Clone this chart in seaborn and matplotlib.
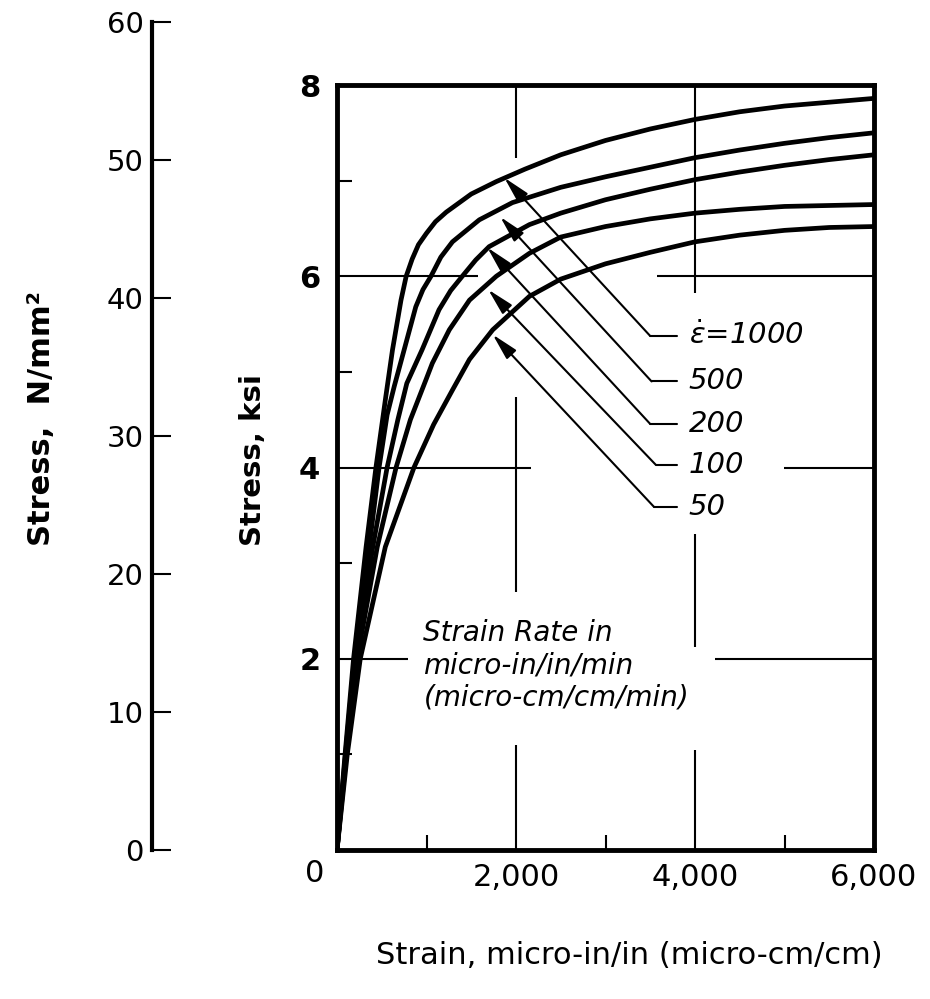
import numpy as np
import pandas as pd
import seaborn as sns
import matplotlib.pyplot as plt

sns.set_theme(style='white')
plt.rcParams['font.family'] = ['DejaVu Sans']
plt.rcParams['mathtext.fontset'] = 'dejavusans'
plt.rcParams['text.color'] = 'black'
plt.rcParams['axes.labelcolor'] = 'black'
plt.rcParams['xtick.color'] = 'black'
plt.rcParams['ytick.color'] = 'black'

# strain (micro-in/in) / stress (ksi)
rates = ['1000', '500', '200', '100', '50']
strain_1000 = [0, 90, 185, 325, 435, 545, 620, 715, 773, 840, 910, 1000, 1100, 1220, 1500, 1780, 2100, 2500, 3000, 3500, 4000, 4500, 5000, 5500, 6000]
stress_1000 = [0, 1.0, 2.0, 3.17, 4.0, 4.74, 5.23, 5.75, 6.0, 6.18, 6.33, 6.45, 6.57, 6.67, 6.86, 6.99, 7.12, 7.27, 7.42, 7.54, 7.64, 7.72, 7.78, 7.82, 7.86]
strain_500 = [0, 95, 195, 360, 470, 560, 640, 750, 880, 960, 1050, 1160, 1290, 1590, 1960, 2500, 3000, 3500, 4000, 4500, 5000, 5500, 6000]
stress_500 = [0, 1.0, 2.0, 3.17, 4.0, 4.55, 4.85, 5.23, 5.68, 5.86, 6.0, 6.2, 6.36, 6.59, 6.77, 6.93, 7.04, 7.14, 7.24, 7.32, 7.39, 7.45, 7.50]
strain_200 = [0, 100, 210, 400, 560, 680, 780, 950, 1140, 1270, 1400, 1550, 1700, 2150, 2500, 3000, 3500, 4000, 4500, 5000, 5500, 6000]
stress_200 = [0, 1.0, 2.0, 3.17, 4.0, 4.5, 4.88, 5.23, 5.65, 5.85, 6.0, 6.17, 6.31, 6.54, 6.66, 6.80, 6.91, 7.01, 7.09, 7.16, 7.22, 7.27]
strain_100 = [0, 105, 225, 450, 660, 820, 995, 1065, 1255, 1480, 1780, 2150, 2500, 3000, 3500, 4000, 4500, 5000, 5500, 6000]
stress_100 = [0, 1.0, 2.0, 3.17, 4.0, 4.5, 4.92, 5.09, 5.44, 5.75, 6.0, 6.24, 6.41, 6.52, 6.60, 6.66, 6.70, 6.73, 6.74, 6.75]
strain_50 = [0, 115, 260, 540, 860, 1080, 1290, 1480, 1740, 2150, 2500, 3000, 3500, 4000, 4500, 5000, 5500, 6000]
stress_50 = [0, 1.0, 2.0, 3.17, 4.0, 4.45, 4.81, 5.13, 5.44, 5.79, 5.97, 6.13, 6.25, 6.36, 6.43, 6.48, 6.51, 6.52]

# leader lines: arrow tip on curve, elbow, label
tip_x = [1870, 1825, 1680, 1690, 1740]
tip_y = [7.03, 6.62, 6.30, 5.86, 5.39]
elbow_x = [3495, 3515, 3495, 3560, 3540]
label_y = [5.38, 4.90, 4.46, 4.03, 3.59]
label_txt = [r'$\dot{\epsilon}$=1000', '500', '200', '100', '50']

x_ticks = [2000, 4000, 6000]
x_ticklabels = ['2,000', '4,000', '6,000']
y_ticks = [2, 4, 6, 8]
si_ticks = [0, 10, 20, 30, 40, 50, 60]

# broken grid lines (the drawing leaves gaps round text and curves)
vgrid_x = [2000, 2000, 2000, 4000, 4000, 4000]
vgrid_lo = [7.24, 2.70, 0, 5.82, 2.12, 0]
vgrid_hi = [8, 4.74, 1.10, 8, 3.30, 1.05]
hgrid_y = [6, 6, 4, 4, 2, 2]
hgrid_lo = [0, 3580, 0, 4990, 0, 4220]
hgrid_hi = [1570, 6000, 2170, 6000, 795, 6000]

df = pd.concat([
    pd.DataFrame({'strain': sx, 'stress': sy, 'rate': r})
    for r, sx, sy in zip(rates,
                         [strain_1000, strain_500, strain_200, strain_100, strain_50],
                         [stress_1000, stress_500, stress_200, stress_100, stress_50])
])

W, H = 930, 999
fig = plt.figure(figsize=(W / 100, H / 100), dpi=100)
ax = fig.add_axes([337 / W, 149 / H, 537 / W, 765 / H])
axL = fig.add_axes([152 / W, 149 / H, 0.001, 828 / H])

ax.vlines(vgrid_x, vgrid_lo, vgrid_hi, color='black', lw=1.5)
ax.hlines(hgrid_y, hgrid_lo, hgrid_hi, color='black', lw=1.5)

sns.lineplot(data=df, x='strain', y='stress', hue='rate', palette=['black'] * 5,
             sort=False, estimator=None, legend=False, linewidth=3.4, ax=ax)

for tx, ty, ex, ly, txt in zip(tip_x, tip_y, elbow_x, label_y, label_txt):
    ax.annotate('', xy=(tx, ty), xytext=(ex, ly),
                arrowprops=dict(arrowstyle='-|>,head_length=0.9,head_width=0.22',
                                color='black', lw=1.5, shrinkA=0, shrinkB=0,
                                mutation_scale=18))
    ax.plot([ex, 3800], [ly, ly], color='black', lw=1.5)
    ax.text(3930, ly, txt, fontsize=21, style='italic', va='center', ha='left')

ax.text(965, 1.93, 'Strain Rate in\nmicro-in/in/min\n(micro-cm/cm/min)',
        fontsize=20, style='italic', va='center', ha='left', linespacing=1.2)

ax.set_xlim(0, 6000)
ax.set_ylim(0, 8)
ax.set_xticks(x_ticks)
ax.set_xticklabels(x_ticklabels)
ax.set_yticks(y_ticks)
ax.set_yticklabels([str(v) for v in y_ticks], fontweight='bold')
ax.set_xticks([1000, 3000, 5000], minor=True)
ax.set_yticks([1, 3, 5, 7], minor=True)
ax.tick_params(which='major', length=0, labelsize=22)
ax.tick_params(axis='x', which='major', pad=9)
ax.tick_params(axis='y', which='major', pad=12)
ax.tick_params(which='minor', direction='in', length=11, width=1.5,
               bottom=True, left=True, top=False, right=False)
ax.annotate('0', xy=(0, 0), xytext=(-16, -17), textcoords='offset points',
            ha='center', va='center', fontsize=22)
ax.set_xlabel('')
ax.set_ylabel('')
for s in ax.spines.values():
    s.set_linewidth(3.5)
    s.set_color('black')

axL.set_ylim(0, 60)
axL.set_yticks(si_ticks)
axL.set_xticks([])
for name in ['top', 'right', 'bottom']:
    axL.spines[name].set_visible(False)
axL.spines['left'].set_linewidth(3)
axL.spines['left'].set_color('black')
axL.tick_params(axis='y', direction='in', length=14, width=1.5, left=True,
                labelsize=21, pad=6)
axL.patch.set_alpha(0)

fig.text(629 / W, 1 - 955 / H, 'Strain, micro-in/in (micro-cm/cm)', fontsize=22,
         ha='center', va='center')
fig.text(253 / W, 1 - 460 / H, 'Stress, ksi', fontsize=21, fontweight='bold',
         rotation=90, ha='center', va='center')
fig.text(42 / W, 1 - 418 / H, 'Stress,  N/mm²', fontsize=22, fontweight='bold',
         rotation=90, ha='center', va='center')

fig.savefig('out.png', dpi=100)
